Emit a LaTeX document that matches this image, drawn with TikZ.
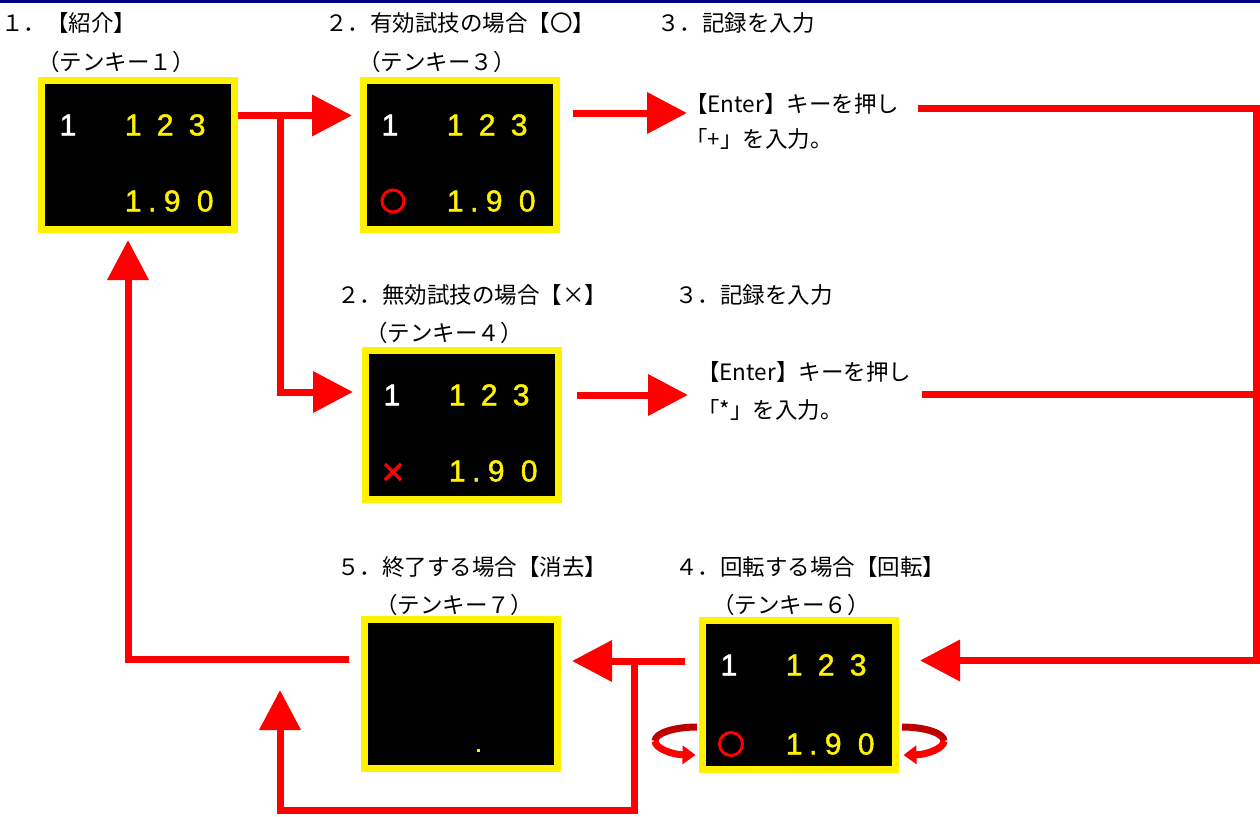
\documentclass[tikz,border=0pt]{standalone}
\usepackage{fontspec}
\setmainfont{Noto Sans CJK JP}
\newfontfamily\digfont[FakeBold=1.6]{Liberation Sans}
\usetikzlibrary{arrows.meta,calc}
\definecolor{navyc}{RGB}{0,0,128}
\definecolor{darkred}{RGB}{190,0,0}
\newcommand\cel[2]{\makebox[#1pt][c]{#2}}
\begin{document}
\begin{tikzpicture}[x=1pt,y=-1pt,
  lbl/.style={anchor=west,inner sep=0pt,font=\fontsize{22.5}{24}\selectfont},
  panel/.style={draw=yellow,fill=black,line width=7pt,minimum width=193pt,minimum height=149pt,inner sep=0pt},
  redline/.style={draw=red,line width=7pt},
  arr/.style={redline,-{Triangle[length=40pt,width=40pt]}},
  digw/.style={text=white,font=\digfont\fontsize{30}{30}\selectfont,inner sep=0pt},
  digy/.style={digw,text=yellow,anchor=west},
  redmark/.style={draw=red,line width=3pt},
  rot/.style={line width=7pt}
]
\useasboundingbox (0,0) rectangle (1260,816);
\fill[white] (0,0) rectangle (1260,816);
\fill[navyc] (0,0) rectangle (1260,3);

% ---------- labels ----------
\node[lbl] (t1) at (1,23) {１．【紹介】};
\node[lbl] (k1) at (37,62) {（テンキー１）};
\node[lbl] (t2) at (325,23) {２．有効試技の場合【〇】};
\node[lbl] (k3) at (358,62) {（テンキー３）};
\node[lbl] (t3a) at (657,23) {３．記録を入力};
\node[lbl] (e1) at (685,104) {【Enter】キーを押し};
\node[lbl] (e1b) at (685,139) {「+」を入力。};
\node[lbl] (t4) at (337,295) {２．無効試技の場合【×】};
\node[lbl] (k4) at (365,333) {（テンキー４）};
\node[lbl] (t3b) at (675,295) {３．記録を入力};
\node[lbl] (e2) at (697,372) {【Enter】キーを押し};
\node[lbl] (e2b) at (697,410) {「*」を入力。};
\node[lbl] (t5) at (337,567) {５．終了する場合【消去】};
\node[lbl] (k7) at (375,605) {（テンキー７）};
\node[lbl] (t6) at (675,567) {４．回転する場合【回転】};
\node[lbl] (k6) at (712,605) {（テンキー６）};

% ---------- panels ----------
\node[panel] (B1) at (138,155) {};
\node[panel] (B2) at (460,155) {};
\node[panel] (B3) at (462,425) {};
\node[panel] (B6) at (799,695) {};
\node[panel] (B7) at (461,694) {};

\begin{scope}[shift={(B1.north west)}]
  \node[digw] (b1a) at (30,48) {1};
  \node[digy] (b1b) at (79,48) {\cel{32}{1}\cel{32}{2}\cel{32}{3}};
  \node[digy] (b1c) at (79,124) {\cel{32}{1}\cel{6}{.}\cel{34}{9}\cel{32}{0}};
\end{scope}
\begin{scope}[shift={(B2.north west)}]
  \node[digw] (b2a) at (30,48) {1};
  \node[digy] (b2b) at (79,48) {\cel{32}{1}\cel{32}{2}\cel{32}{3}};
  \node[digy] (b2c) at (79,124) {\cel{32}{1}\cel{6}{.}\cel{34}{9}\cel{32}{0}};
  \draw[redmark] (33,124) circle[radius=11];
\end{scope}
\begin{scope}[shift={(B3.north west)}]
  \node[digw] (b3a) at (30,48) {1};
  \node[digy] (b3b) at (79,48) {\cel{32}{1}\cel{32}{2}\cel{32}{3}};
  \node[digy] (b3c) at (79,124) {\cel{32}{1}\cel{6}{.}\cel{34}{9}\cel{32}{0}};
  \draw[redmark,line width=3.5pt] (23,117) -- (39,133) (23,133) -- (39,117);
\end{scope}
\begin{scope}[shift={(B6.north west)}]
  \node[digw] (b6a) at (30,48) {1};
  \node[digy] (b6b) at (79,48) {\cel{32}{1}\cel{32}{2}\cel{32}{3}};
  \node[digy] (b6c) at (79,127) {\cel{32}{1}\cel{6}{.}\cel{34}{9}\cel{32}{0}};
  \draw[redmark] (32,127) circle[radius=11.5];
\end{scope}
\begin{scope}[shift={(B7.north west)}]
  \fill[yellow] (115.5,132.5) rectangle ++(3.5,3.5);
\end{scope}

% ---------- connectors ----------
\coordinate (j1) at (280.5,115.5);
\coordinate (j2) at (280.5,392);
\draw[arr] (B1.east|-j1) -- ($(B2.west|-j1)+(-8,0)$);
\draw[arr] (j1) -- (j2) -- ($(B3.west|-j2)+(-9,0)$);

\draw[arr] ($(B2.east|-0,113)+(13,0)$) -- ($(e1.west|-0,113)+(2,0)$);
\draw[arr] ($(B3.east|-0,395)+(15,0)$) -- ($(e2.west|-0,395)+(-9,0)$);

\coordinate (s1) at (918,108);
\coordinate (s2) at (922,394.5);
\coordinate (rt) at (1256.5,108);
\coordinate (rb) at (1256.5,660.5);
\draw[arr] (s1) -- (rt) -- (rb) -- ($(B6.east|-rb)+(21,0)$);
\draw[redline] (s2) -- (rt|-s2);

\coordinate (j3) at (634,661);
\coordinate (j4) at (634,810);
\coordinate (j5) at (280,810);
\draw[arr] ($(B6.west|-j3)+(-14,0)$) -- ($(B7.east|-j3)+(11,0)$);
\draw[arr] (j3) -- (j4) -- (j5) -- (280,690);

\coordinate (j6) at (128,659);
\draw[arr] ($(B7.west|-j6)+(-12,0)$) -- (j6) -- ($(B1.south|-0,0)+(-10,240)$);

% ---------- rotation arrows ----------
\draw[rot,darkred] (697,727) arc[start angle=-90,end angle=-180,x radius=42,y radius=14];
\draw[rot,red,-{Triangle[length=13pt,width=18pt]}] (655,741) arc[start angle=-180,end angle=-268,x radius=42,y radius=14];
\draw[rot,darkred] (902,727) arc[start angle=-90,end angle=0,x radius=42,y radius=14];
\draw[rot,red,-{Triangle[length=13pt,width=18pt]}] (944,741) arc[start angle=0,end angle=88,x radius=42,y radius=14];
\end{tikzpicture}
\end{document}
